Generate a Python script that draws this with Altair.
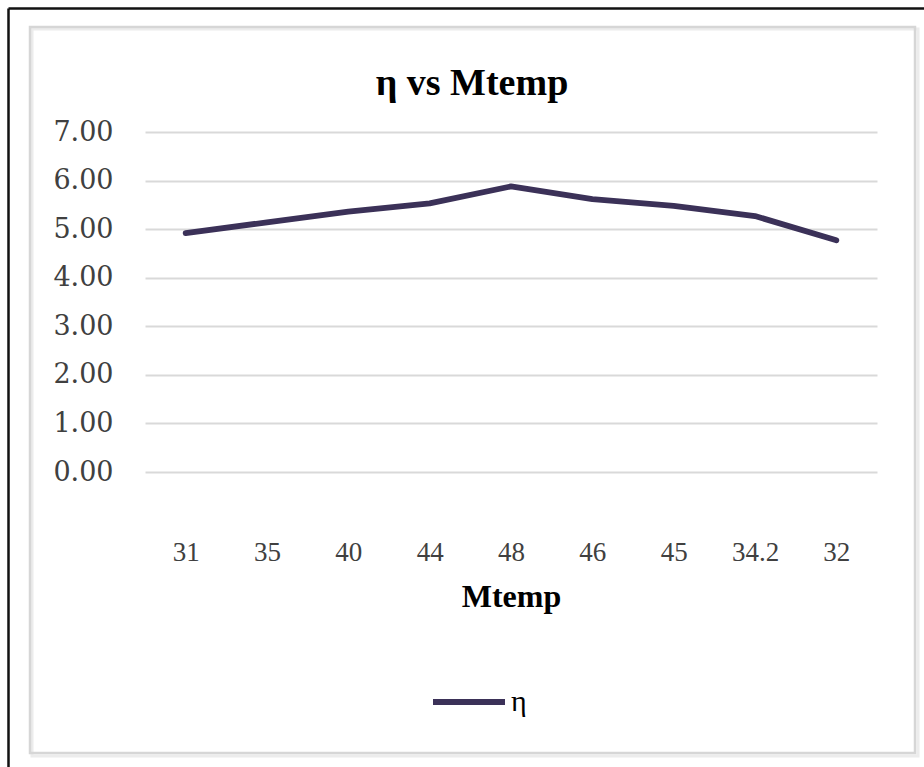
import altair as alt
import pandas as pd

# Mtemp readings (category order as recorded) and efficiency η for each
mtemp = ["31", "35", "40", "44", "48", "46", "45", "34.2", "32"]
eta = [4.92, 5.14, 5.36, 5.53, 5.88, 5.62, 5.48, 5.27, 4.77]
series = ["η"] * len(mtemp)

y_ticks = [0, 1, 2, 3, 4, 5, 6, 7]

df = pd.DataFrame({"Mtemp": mtemp, "eta": eta, "series": series})
one = pd.DataFrame({"t": ["η vs Mtemp"]})

W, H = 732, 340
LEFT, TOP = 145, 132
SERIF = "Times New Roman, Liberation Serif, serif"
Y_FONT = "DejaVu Serif"
LINE_COLOR = "#3b3158"

# page decorations: thin black border and light grey chart-area frame
frame_shadow = alt.Chart(one).mark_rect(
    filled=False, stroke="#ececec", strokeWidth=3
).encode(
    x=alt.value(32 - LEFT), x2=alt.value(918 - LEFT),
    y=alt.value(29 - TOP), y2=alt.value(756 - TOP),
)
frame = alt.Chart(one).mark_rect(
    filled=False, stroke="#d6d6d6", strokeWidth=2.5
).encode(
    x=alt.value(30 - LEFT), x2=alt.value(915 - LEFT),
    y=alt.value(27 - TOP), y2=alt.value(753 - TOP),
)
border_left = alt.Chart(one).mark_rule(color="#111111", strokeWidth=2.5).encode(
    x=alt.value(8.5 - LEFT), y=alt.value(8.5 - TOP), y2=alt.value(767 - TOP)
)
border_top = alt.Chart(one).mark_rule(color="#111111", strokeWidth=2.5).encode(
    x=alt.value(8.5 - LEFT), x2=alt.value(924 - LEFT), y=alt.value(8.5 - TOP)
)

title = alt.Chart(one).mark_text(
    font=SERIF, fontSize=38, fontWeight="bold", color="#000000",
    align="center", baseline="middle",
).encode(text="t:N", x=alt.value(472 - LEFT), y=alt.value(84 - TOP))

line = alt.Chart(df).mark_line(
    strokeWidth=5.8, strokeCap="round", strokeJoin="round"
).encode(
    x=alt.X(
        "Mtemp:N", sort=mtemp,
        axis=alt.Axis(
            title="Mtemp", labelAngle=0, domain=False, ticks=False, tickSize=0,
            grid=False, labelFont=SERIF, labelFontSize=27, labelColor="#404040",
            labelPadding=67, titleFont=SERIF, titleFontSize=32,
            titleFontWeight="bold", titleColor="#000000", titlePadding=16,
        ),
    ),
    y=alt.Y(
        "eta:Q", scale=alt.Scale(domain=[0, 7], nice=False, zero=True),
        axis=alt.Axis(
            title=None, values=y_ticks, format=".2f", domain=False, ticks=False,
            tickSize=0, grid=True, gridColor="#d9d9d9", gridWidth=2,
            labelFont=Y_FONT, labelFontSize=27, labelColor="#404040",
            labelPadding=32,
        ),
    ),
    color=alt.Color(
        "series:N", scale=alt.Scale(range=[LINE_COLOR]),
        legend=alt.Legend(
            title=None, orient="none", legendX=430 - LEFT, legendY=663 - TOP,
            symbolType="stroke", symbolSize=5184, symbolStrokeWidth=5.8,
            labelFont=SERIF, labelFontSize=30, labelColor="#000000",
            labelOffset=3,
        ),
    ),
)

chart = alt.layer(
    frame_shadow, frame, border_left, border_top, title, line
).properties(
    width=W, height=H,
    autosize=alt.AutoSizeParams(type="none"),
    padding={"left": LEFT, "top": TOP, "right": 924 - LEFT - W, "bottom": 767 - TOP - H},
    background="#ffffff",
).configure_view(stroke=None)

chart.save("out.html", embed_options={"renderer": "svg", "actions": False})
